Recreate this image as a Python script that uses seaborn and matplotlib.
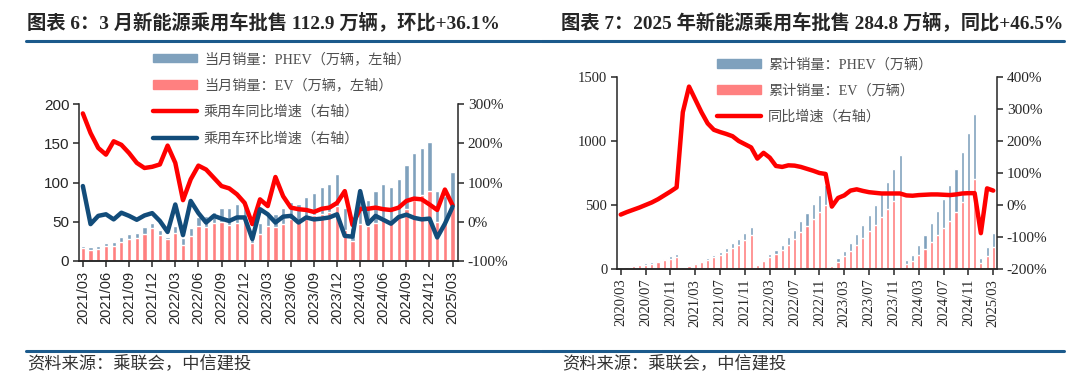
import numpy as np
import pandas as pd
import seaborn as sns
import matplotlib.pyplot as plt
from matplotlib.lines import Line2D
from matplotlib.patches import Patch
from matplotlib.ticker import FuncFormatter

# ---------------- chart 6: monthly wholesale, 2021/03 - 2025/03 (万辆)
months6 = pd.period_range('2021-03', '2025-03', freq='M').strftime('%Y/%m').tolist()
total6 = [19.5, 18, 19.5, 22.5, 24, 30, 34, 36, 43, 49,
          39, 31, 45, 29, 41.5, 56, 57, 62, 67, 67, 72, 73,
          35, 48, 61, 60, 67, 75, 73, 82, 87, 94, 98, 111,
          67, 42, 80, 78, 89, 98, 94, 105, 122, 137, 144, 151,
          89, 83, 113]
ev6 = [16, 14.4, 15.7, 18.6, 19.5, 24, 28, 29, 34, 41.5,
       33, 27.5, 35.6, 21, 32, 44, 43, 48, 49.5, 46, 48, 54,
       22.5, 34, 44, 43, 47, 53, 50, 54, 58, 60, 62, 70,
       40, 26, 47, 44, 48, 55, 50, 56, 66, 78, 84, 89,
       50, 48, 69]
yoy6 = [276, 226, 188, 171, 205, 196, 175, 150, 137, 140,
        146, 194, 150, 55, 108, 143, 133, 112, 91, 85, 70, 48,
        -6, 57, 40, 114, 65, 36, 32, 30, 25, 33, 36, 48,
        78, -8, 33, 33, 36, 32, 30, 36, 53, 59, 57, 44,
        30, 82, 42]
mom6 = [91, -6, 15, 19, 6, 23, 15, 5, 16, 22,
        2, -26, 44, -34, 53, 22, -2, 15, 8, 2, 11, 11,
        -44, 32, 19, -2, 13, 15, -2, 11, 6, 8, 11, 19,
        -36, -38, 78, -5, 15, 5, -5, 12, 18, 10, 6, 8,
        -40, -5, 38]

# ---------------- chart 7: year-to-date wholesale, 2020/03 - 2025/03 (万辆)
months7 = pd.period_range('2020-03', '2025-03', freq='M').strftime('%Y/%m').tolist()
cum_total7 = [10.5, 17.4, 24.8, 34.1, 43.3, 52.7, 65.7, 81.2, 98.6, 117,
              17.9, 28.6, 47.6, 66.1, 86.6, 111.4, 136, 166, 200, 236.5, 279.5, 330,
              41.8, 74, 119.5, 147.5, 189.5, 246.6, 305.9, 372.5, 440, 507.5, 580.5, 655,
              33.2, 82.9, 143.6, 204, 271.4, 347.4, 421.1, 501.6, 589.2, 682.5, 780.9, 890,
              66.8, 105.6, 188.2, 268.6, 357.9, 456.2, 550.3, 655.7, 779.3, 916, 1061, 1213,
              88.9, 171.9, 284.8]
cum_ev7 = [8.5, 14, 20, 27.5, 35, 42.5, 53.5, 66.5, 81, 96,
           14.5, 23, 38.5, 53.5, 70, 90, 110, 134.5, 162, 191, 225, 267,
           33, 59, 94, 115, 147, 191, 236, 287, 338, 389, 443, 500,
           22.5, 56.5, 100.5, 143.5, 190.5, 243.5, 293.5, 347.5, 405.5, 465.5, 527.5, 600,
           40, 64, 112, 158, 208, 265, 318, 377, 446, 526, 613, 705,
           50, 98, 170]
yoy7 = [-30, -22, -15, -8, 0, 8, 18, 30, 42, 55,
        290, 370, 330, 290, 255, 235, 228, 222, 215, 200, 190, 180,
        145, 163, 148, 122, 119, 124, 123, 119, 113, 107, 100, 97,
        -5, 22, 30, 45, 49, 44, 40, 38, 36, 36, 36, 36,
        30, 29, 31, 32, 33, 33, 32, 31, 33, 36, 37, 37,
        -88, 52, 45]

phev_c = '#7FA1BD'
ev_c = '#FF8080'
red_c = '#FF0000'
navy_c = '#124C7A'
rule_c = '#1B5A8C'
mixed = ['Liberation Serif', 'Noto Sans CJK SC']

sns.set_style('ticks')
plt.rcParams['font.family'] = ['Noto Sans CJK SC', 'DejaVu Sans']
plt.rcParams['axes.linewidth'] = 1.1

fig = plt.figure(figsize=(10.8, 3.78), dpi=100)
W, H = 1080, 378


def fx(px):
    return px / W


def fy(py):
    return 1 - py / H


def pct(v, pos):
    return '{:.0f}%'.format(v)


def style_axes(ax, axr, sans_left):
    for a in (ax, axr):
        a.spines['top'].set_visible(False)
    ax.spines['right'].set_visible(False)
    axr.spines['left'].set_visible(False)
    ax.tick_params(axis='both', direction='out', length=4, width=1.1, pad=3)
    axr.tick_params(axis='y', direction='out', length=4, width=1.1, pad=3)
    ax.set_xlabel('')
    ax.set_ylabel('')
    axr.set_ylabel('')
    lfam = 'Liberation Sans' if sans_left else 'Liberation Serif'
    for t in ax.get_yticklabels():
        t.set_fontfamily(lfam)
        t.set_fontsize(11 if sans_left else 10.5)
    for t in ax.get_xticklabels():
        t.set_fontfamily(lfam)
        t.set_fontsize(10.5)
        t.set_rotation(90)
    for t in axr.get_yticklabels():
        t.set_fontfamily('Liberation Serif')
        t.set_fontsize(11)


def add_legend(handles, labels, x, y):
    fig.legend(handles, labels, loc='upper left', bbox_to_anchor=(fx(x), fy(y)),
               frameon=False, prop={'family': mixed, 'size': 10.2},
               labelcolor='#505050', handlelength=3.1, handleheight=0.55,
               handletextpad=0.5, labelspacing=0.9, borderpad=0,
               borderaxespad=0)


# ---------------- left chart
df6 = pd.DataFrame({'month': months6, 'total': total6, 'ev': ev6,
                    'yoy': yoy6, 'mom': mom6})
df6['pos'] = np.arange(len(df6))

ax1 = fig.add_axes([fx(79), fy(261), fx(379), (261 - 104) / H])
sns.barplot(data=df6, x='month', y='total', color=phev_c, saturation=1,
            width=0.55, ax=ax1)
sns.barplot(data=df6, x='month', y='ev', color=ev_c, saturation=1,
            width=0.55, ax=ax1)
ax1.set_ylim(0, 200)
ax1.set_yticks(range(0, 201, 50))
ax1b = ax1.twinx()
sns.lineplot(data=df6, x='pos', y='yoy', color=red_c, lw=3.2, ax=ax1b)
sns.lineplot(data=df6, x='pos', y='mom', color=navy_c, lw=3.2, ax=ax1b)
ax1b.set_ylim(-100, 300)
ax1b.set_yticks(range(-100, 301, 100))
ax1b.yaxis.set_major_formatter(FuncFormatter(pct))
ax1.set_xlim(-0.5, 48.7)
ax1.set_xticks(range(0, len(months6), 3))
ax1.set_xticklabels(months6[::3])
style_axes(ax1, ax1b, True)

h6 = [Patch(color=phev_c), Patch(color=ev_c),
      Line2D([], [], color=red_c, lw=3.2), Line2D([], [], color=navy_c, lw=3.2)]
l6 = ['当月销量：PHEV（万辆，左轴）', '当月销量：EV（万辆，左轴）',
      '乘用车同比增速（右轴）', '乘用车环比增速（右轴）']
add_legend(h6, l6, 153, 52)

# ---------------- right chart
df7 = pd.DataFrame({'month': months7, 'total': cum_total7, 'ev': cum_ev7,
                    'yoy': yoy7})
df7['pos'] = np.arange(len(df7))

ax2 = fig.add_axes([fx(617), fy(269), fx(380), (269 - 77) / H])
sns.barplot(data=df7, x='month', y='total', color=phev_c, saturation=1,
            width=0.5, ax=ax2)
sns.barplot(data=df7, x='month', y='ev', color=ev_c, saturation=1,
            width=0.5, ax=ax2)
ax2.set_ylim(0, 1500)
ax2.set_yticks(range(0, 1501, 500))
ax2b = ax2.twinx()
sns.lineplot(data=df7, x='pos', y='yoy', color=red_c, lw=3.2, ax=ax2b)
ax2b.set_ylim(-200, 400)
ax2b.set_yticks(range(-200, 401, 100))
ax2b.yaxis.set_major_formatter(FuncFormatter(pct))
ax2.set_xlim(-0.6, 60.6)
ax2.set_xticks(range(0, len(months7), 4))
ax2.set_xticklabels(months7[::4])
style_axes(ax2, ax2b, False)

h7 = [Patch(color=phev_c), Patch(color=ev_c), Line2D([], [], color=red_c, lw=3.2)]
l7 = ['累计销量：PHEV（万辆）', '累计销量：EV（万辆）', '同比增速（右轴）']
add_legend(h7, l7, 717, 58)

# ---------------- titles, rules, source
fig.text(fx(27), fy(22), '图表 6：3 月新能源乘用车批售 112.9 万辆，环比+36.1%',
         fontsize=13.9, fontweight='bold', va='center', ha='left', family=mixed)
fig.text(fx(561), fy(22), '图表 7：2025 年新能源乘用车批售 284.8 万辆，同比+46.5%',
         fontsize=13.9, fontweight='bold', va='center', ha='left', family=mixed)
for x0, x1 in [(26, 540), (541, 1064)]:
    fig.add_artist(Line2D([fx(x0), fx(x1)], [fy(40.5)] * 2, color=rule_c, lw=2.2))
    fig.add_artist(Line2D([fx(x0), fx(x1)], [fy(350.5)] * 2, color=rule_c, lw=2.2))
for x0 in (27, 562):
    fig.text(fx(x0), fy(363), '资料来源：乘联会，中信建投', fontsize=12.4,
             color='#333333', va='center', ha='left', style='italic')

fig.savefig('out.png', dpi=100)
